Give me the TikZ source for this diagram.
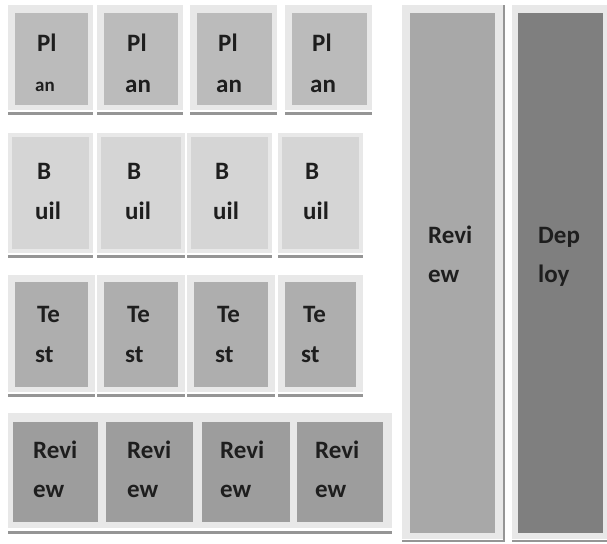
\documentclass[tikz,border=0pt]{standalone}
\usepackage{fontspec}
\setmainfont{Carlito}
\definecolor{framegrey}{HTML}{E8E8E8}
\definecolor{plangrey}{HTML}{BBBBBB}
\definecolor{buildgrey}{HTML}{D5D5D5}
\definecolor{testgrey}{HTML}{AEAEAE}
\definecolor{reviewgrey}{HTML}{9D9D9D}
\definecolor{tallgrey}{HTML}{A8A8A8}
\definecolor{deploygrey}{HTML}{7F7F7F}
\definecolor{shadowgrey}{HTML}{959595}
\definecolor{inkgrey}{HTML}{1E1E1E}
\tikzset{
  lbl/.style={anchor=base west, inner sep=0pt, text=inkgrey,
              font=\fontsize{25bp}{30bp}\selectfont\bfseries},
  smalllbl/.style={lbl, font=\fontsize{19bp}{22bp}\selectfont\bfseries},
}
\begin{document}
\begin{tikzpicture}[x=1bp, y=-1bp]
\useasboundingbox (0,0) rectangle (607,544);
\fill[white] (0,0) rectangle (607,544);

% ---- Plan row ----
\foreach \i/\xa/\xb/\tx in {1/8/93/37, 2/97/183/127, 3/190/277/218, 4/285/372/312} {
  \fill[shadowgrey] (\xa,112) rectangle (\xb,115);
  \fill[framegrey] (\xa,5) rectangle (\xb,110);
  \fill[plangrey] (\xa+7,13) rectangle (\xb-5,105);
  \node[lbl] (plan\i a) at (\tx,52) {Pl};
}
\node[smalllbl] (plan1b) at (35,92) {an};
\foreach \i/\tx in {2/125, 3/216, 4/310} {
  \node[lbl] (plan\i b) at (\tx,93) {an};
}

% ---- Build row ----
\foreach \i/\xa/\xb/\tx in {1/8/93/37, 2/97/185/127, 3/187/272/215, 4/278/363/305} {
  \fill[shadowgrey] (\xa,255) rectangle (\xb,258);
  \fill[framegrey] (\xa,133) rectangle (\xb,253);
  \fill[buildgrey] (\xa+4,137) rectangle (\xb-4,249);
  \node[lbl] (build\i a) at (\tx,180) {B};
  \node[lbl] (build\i b) at (\tx-2,220) {uil};
}

% ---- Test row ----
\foreach \i/\xa/\xb/\tx in {1/8/95/37, 2/97/185/127, 3/187/275/217, 4/278/363/303} {
  \fill[shadowgrey] (\xa,394) rectangle (\xb,397);
  \fill[framegrey] (\xa,275) rectangle (\xb,392);
  \fill[testgrey] (\xa+7,282) rectangle (\xb-7,387);
  \node[lbl] (test\i a) at (\tx,322) {Te};
  \node[lbl] (test\i b) at (\tx-2,362) {st};
}

% ---- Review row ----
\fill[shadowgrey] (8,531) rectangle (392,534);
\fill[framegrey] (8,413) rectangle (392,528);
\foreach \i/\xa/\xb/\tx in {1/13/98/33, 2/106/193/127, 3/202/290/220, 4/297/383/315} {
  \fill[reviewgrey] (\xa,422) rectangle (\xb,522);
  \node[lbl] (review\i a) at (\tx,458) {Revi};
  \node[lbl] (review\i b) at (\tx,497) {ew};
}

% ---- Tall review column ----
\fill[shadowgrey] (503,5) rectangle (505,542);
\fill[shadowgrey] (402,540) rectangle (505,542);
\fill[framegrey] (402,5) rectangle (503,539);
\fill[tallgrey] (410,13) rectangle (495,533);
\node[lbl] (reviewcol a) at (428,243) {Revi};
\node[lbl] (reviewcol b) at (428,282) {ew};

% ---- Deploy column ----
\fill[shadowgrey] (512,540) rectangle (607,542);
\fill[framegrey] (512,5) rectangle (607,539);
\fill[deploygrey] (518,13) rectangle (603,533);
\node[lbl] (deploy a) at (538,243) {Dep};
\node[lbl] (deploy b) at (538,282) {loy};
\end{tikzpicture}
\end{document}
